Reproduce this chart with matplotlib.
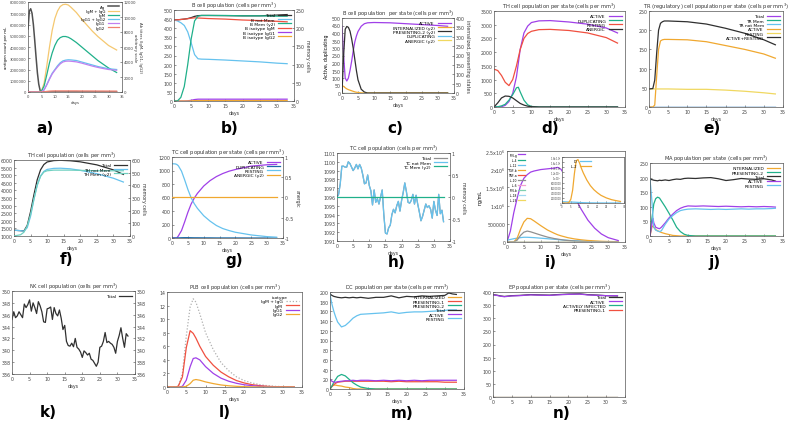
import matplotlib
matplotlib.use("Agg")
import matplotlib.pyplot as plt

W, H = 789, 435
fig = plt.figure(figsize=(W / 100, H / 100), dpi=100)
fig.patch.set_facecolor("white")

# gnuplot-like palette
VIO, TEAL, LBLUE, ORANGE, YELLOW = "#a040e8", "#20b08a", "#66c2ee", "#f0a830", "#f0d860"
DBLUE, RED, BLACK, GRAY = "#1a6aa8", "#f05040", "#303030", "#909090"
FS = 3.4

# ---------------- data ----------------
# a) antigen and antibodies
a_days_ag = [0, 0.5, 1, 1.5, 2, 2.5, 3, 3.5, 4, 4.5, 5, 33]
a_ag = [5.6e6, 7.2e6, 7.4e6, 7.0e6, 6.0e6, 4.6e6, 3.1e6, 1.7e6, 0.7e6, 0.15e6, 0, 0]
a_days = [0, 3, 5, 6, 7, 8, 9, 10, 11, 12, 13, 14, 15, 16, 18, 20, 22, 24, 26, 28, 30, 33]
a_igm_igg = [0, 0, 100, 1200, 3500, 6000, 8200, 9800, 10800, 11400, 11650, 11700, 11600, 11300, 10600, 9700, 8900, 8100, 7400, 6800, 6200, 5600]
a_igm = [0, 0, 100, 800, 2300, 3900, 5200, 6200, 6900, 7250, 7400, 7400, 7300, 7100, 6600, 6000, 5400, 4800, 4200, 3700, 3200, 2600]
a_igg12 = [0, 0, 0, 300, 1000, 1800, 2500, 3000, 3500, 3900, 4150, 4250, 4300, 4280, 4200, 4000, 3800, 3600, 3400, 3250, 3100, 3000]
a_igg1 = [0, 0, 0, 280, 950, 1700, 2400, 2900, 3350, 3750, 4000, 4100, 4120, 4100, 4020, 3850, 3650, 3450, 3280, 3130, 3000, 2900]
a_igg2 = [0, 0, 0, 30, 80, 120, 140, 150, 150, 150, 150, 150, 150, 150, 150, 140, 140, 135, 130, 130, 125, 120]

# b) B cell population
b_days = [0, 1, 2, 3, 4, 5, 6, 7, 8, 10, 15, 20, 25, 30, 33]
b_total = [445, 446, 448, 450, 453, 458, 465, 469, 470, 470, 469, 468, 468, 472, 475]
b_notmem = [445, 440, 430, 415, 380, 320, 255, 232, 230, 229, 225, 220, 215, 208, 205]
b_mem = [0, 0, 10, 40, 100, 170, 220, 233, 235, 235, 235, 234, 234, 233, 233]
b_igm = [445, 446, 448, 450, 452, 455, 457, 456, 455, 453, 450, 445, 442, 438, 435]
b_igg1 = [0, 0, 0, 0, 1, 4, 8, 10, 10, 10, 10, 10, 10, 10, 10]
b_igg2 = [0, 0, 0, 0, 0, 1, 2, 2, 2, 2, 2, 2, 2, 2, 2]

# c) B cell population per state
c_days = [0, 0.5, 1, 1.5, 2, 2.5, 3, 3.5, 4, 4.5, 5, 6, 7, 8, 10, 15, 20, 25, 30, 33]
c_active = [445, 250, 100, 80, 100, 150, 210, 280, 340, 380, 410, 445, 462, 468, 470, 468, 462, 456, 450, 445]
c_pres2 = [0, 200, 340, 355, 350, 330, 290, 240, 180, 120, 70, 20, 5, 0, 0, 0, 0, 0, 0, 0]
c_intern = [40, 35, 28, 22, 18, 15, 12, 9, 6, 4, 3, 1, 0, 0, 0, 0, 0, 0, 0, 0]

# d) TH cell population per state
d_days = [0, 1, 2, 3, 4, 5, 6, 6.5, 7, 8, 9, 10, 12, 15, 20, 25, 30, 33]
d_active = [0, 0, 10, 60, 200, 500, 1100, 1600, 2100, 2700, 2950, 3080, 3140, 3150, 3100, 3020, 2880, 2700]
d_dupl = [0, 10, 40, 100, 250, 450, 700, 720, 550, 250, 80, 20, 0, 0, 0, 0, 0, 0]
d_resting = [1380, 1330, 1150, 900, 780, 1000, 1500, 1800, 2100, 2500, 2680, 2760, 2820, 2830, 2790, 2700, 2530, 2330]
d_anergic = [0, 150, 330, 400, 390, 330, 230, 180, 130, 70, 30, 10, 0, 0, 0, 0, 0, 0]

# e) TR cell population per state
e_days = [0, 1, 1.5, 2, 2.5, 3, 3.5, 4, 5, 10, 15, 20, 25, 30, 33]
e_actres = [47, 48, 70, 140, 200, 218, 222, 224, 224, 222, 216, 205, 192, 175, 162]
e_active = [0, 0, 5, 80, 150, 172, 175, 176, 176, 175, 170, 160, 150, 138, 127]
e_resting = [47, 47, 47, 47, 47, 47, 47, 47, 47, 46, 46, 44, 41, 37, 34]

# f) TH cell population
f_days = [0, 2, 3, 4, 5, 6, 7, 8, 9, 10, 12, 14, 17, 20, 25, 30, 33]
f_total = [1380, 1350, 1330, 1700, 2600, 3700, 4700, 5350, 5700, 5870, 5960, 5980, 5950, 5880, 5680, 5350, 5050]
f_notmem = [1380, 1350, 1320, 1550, 2300, 3400, 4350, 4950, 5250, 5380, 5450, 5460, 5420, 5320, 5100, 4800, 4550]
f_mem = [0, 10, 30, 80, 170, 290, 400, 470, 505, 515, 520, 520, 520, 518, 515, 515, 515]

# g) TC cell population per state
g_days = [0, 1, 1.5, 2, 3, 4, 5, 6, 7, 8, 10, 12, 14, 16, 18, 20, 25, 30, 33]
g_resting = [1100, 1098, 1090, 1070, 990, 860, 720, 600, 510, 440, 330, 250, 185, 140, 110, 85, 45, 20, 12]
g_active = [0, 0, 0, 30, 110, 240, 380, 500, 590, 660, 770, 850, 910, 955, 990, 1015, 1065, 1085, 1090]
g_dupl = [0, 0, 0, 2, 4, 5, 5, 4, 3, 3, 2, 2, 1, 1, 1, 1, 0, 0, 0]
g_anergic = [0] * 19

# h) TC cell population (noisy)
h_days = [i * 0.5 for i in range(67)]
h_total = [1096, 1096.3, 1097.5, 1099.5, 1099.5, 1099.4, 1099.4, 1100, 1099.8, 1099.4, 1099.0, 1099.3, 1099.7, 1099.2, 1099.7,
           1099.3, 1098.5, 1097.5, 1097.6, 1098.5, 1097.3, 1096.7, 1095.1, 1096.8, 1095.4, 1095.8, 1095.2, 1096.0, 1096.8, 1094.0,
           1091.9, 1091.8, 1092.5, 1092.8, 1094.0, 1094.6, 1094.2, 1095.0, 1095.5, 1094.4, 1095.6, 1096.5, 1097.6, 1096.6, 1095.4,
           1095.3, 1095.6, 1096.3, 1095.2, 1096.2, 1095.2, 1094.3, 1093.3, 1093.8, 1094.5, 1095.2, 1094.8, 1095.0, 1094.6, 1093.6,
           1095.5, 1094.5, 1093.9, 1096.3, 1094.1, 1094.5, 1093.2]
h_mem = [0] * 67

# i) cytokines
i_days = [0, 1, 2, 3, 4, 5, 6, 7, 8, 10, 12, 14, 15, 16, 17, 18, 20, 22, 24, 26, 28, 30, 33]
i_ifng = [0, 3.0e5, 8.0e5, 1.2e6, 1.55e6, 1.75e6, 1.85e6, 1.92e6, 1.95e6, 1.99e6, 2.01e6, 2.03e6, 2.05e6, 2.0e6, 1.85e6, 1.65e6, 1.25e6, 0.9e6, 0.6e6, 0.38e6, 0.22e6, 0.12e6, 0.04e6]
i_tgfb = [0, 0, 0, 1.0e5, 3.5e5, 5.5e5, 6.5e5, 6.4e5, 5.8e5, 4.5e5, 3.3e5, 2.4e5, 2.0e5, 1.7e5, 1.45e5, 1.2e5, 0.85e5, 0.6e5, 0.42e5, 0.3e5, 0.2e5, 0.14e5, 0.08e5]
i_il10 = [0, 0, 0, 0.5e5, 1.8e5, 2.7e5, 3.0e5, 2.8e5, 2.5e5, 1.9e5, 1.35e5, 0.95e5, 0.8e5, 0.65e5, 0.52e5, 0.42e5, 0.27e5, 0.17e5, 0.1e5, 0.06e5, 0.03e5, 0.02e5, 0.01e5]
i_il12 = [5.0e4, 7.0e4, 9.0e4, 1.05e5, 1.2e5, 1.3e5, 1.3e5, 1.25e5, 1.2e5, 1.05e5, 0.9e5, 0.75e5, 0.68e5, 0.6e5, 0.52e5, 0.45e5, 0.35e5, 0.26e5, 0.19e5, 0.14e5, 0.1e5, 0.07e5, 0.04e5]
i_in_days = [0, 2, 3, 4, 5, 6, 7, 8, 9, 10, 11, 12, 14, 16, 18, 20, 22, 25, 28, 30, 33]
i_il2 = [0, 0, 0, 0.3e6, 1.5e6, 5.0e6, 11.5e6, 16.5e6, 17.0e6, 15.5e6, 13.5e6, 11.8e6, 9.0e6, 6.8e6, 5.2e6, 4.0e6, 3.0e6, 2.0e6, 1.3e6, 1.0e6, 0.6e6]
i_dsig = [0.5e6, 0.45e6, 0.42e6, 0.4e6, 0.38e6, 0.35e6, 0.32e6, 0.28e6, 0.24e6, 0.2e6, 0.16e6, 0.12e6, 0.08e6, 0.05e6, 0.03e6, 0.02e6, 0.01e6, 0, 0, 0, 0]

# j) MA population per state
j_days = [0, 0.5, 0.8, 1, 1.5, 2, 2.5, 3, 4, 5, 6, 7, 8, 9, 10, 12, 14, 16, 18, 20, 22, 24, 26, 28, 30, 32, 33]
j_total = [195, 193, 192, 191, 190, 189, 191, 190, 192, 190, 193, 195, 194, 197, 198, 197, 199, 200, 196, 190, 193, 197, 195, 194, 196, 192, 188]
j_resting = [195, 120, 60, 30, 20, 17, 15, 18, 40, 58, 70, 80, 87, 90, 92, 93, 92, 91, 92, 91, 92, 93, 92, 93, 93, 94, 95]
j_active = [0, 40, 60, 45, 30, 27, 25, 30, 45, 62, 75, 87, 95, 100, 103, 102, 103, 102, 101, 102, 101, 100, 101, 100, 101, 100, 99]
j_pres2 = [0, 60, 90, 110, 128, 133, 130, 120, 100, 78, 55, 30, 15, 6, 2, 0, 0, 0, 0, 0, 0, 0, 0, 0, 0, 0, 0]
j_intern = [0, 30, 35, 30, 22, 18, 15, 12, 8, 5, 2, 1, 0, 0, 0, 0, 0, 0, 0, 0, 0, 0, 0, 0, 0, 0, 0]

# k) NK cell population (noisy)
k_days = [i * 0.5 for i in range(67)]
k_total = [345.2, 346.5, 345.5, 345.8, 346.5, 346.0, 345.5, 347.8, 347.2, 347.7, 348.5, 346.6, 348.0, 347.2, 346.2, 348.2,
           347.5, 346.5, 344.8, 344.7, 347.0, 347.1, 347.3, 345.2, 347.2, 346.2, 345.8, 346.8, 345.4, 343.5, 344.2, 341.5,
           340.8, 340.7, 341.2, 340.6, 342.0, 340.5, 340.2, 339.7, 338.8, 339.9, 339.6, 339.2, 339.5, 338.5, 338.3, 337.8,
           337.3, 338.0, 340.5, 340.7, 341.5, 343.0, 341.3, 341.5, 341.2, 341.0, 340.5, 339.5, 341.5, 342.5, 343.8, 342.0,
           340.5, 342.8, 342.4]

# l) PLB cell population
l_days = [0, 2.5, 3, 4, 5, 6, 6.8, 7.5, 8.5, 10, 12, 14, 16, 18, 20, 22, 24, 26, 28, 30, 33]
l_all = [0, 0, 0.3, 2.0, 7.5, 11.8, 13.0, 12.5, 10.8, 8.0, 5.5, 3.6, 2.4, 1.5, 0.95, 0.6, 0.35, 0.2, 0.1, 0.05, 0]
l_igm = [0, 0, 0.2, 1.5, 5.8, 8.3, 7.9, 7.2, 6.0, 4.5, 3.2, 2.2, 1.5, 0.95, 0.6, 0.35, 0.2, 0.1, 0.05, 0.02, 0]
l_igg1 = [0, 0, 0, 0.1, 1.0, 3.0, 4.2, 4.3, 4.0, 3.0, 2.0, 1.3, 0.85, 0.55, 0.33, 0.2, 0.1, 0.05, 0.02, 0, 0]
l_igg2 = [0, 0, 0, 0, 0.1, 0.5, 1.0, 1.1, 1.0, 0.75, 0.5, 0.3, 0.18, 0.1, 0.05, 0.02, 0, 0, 0, 0, 0]

# m) DC population per state
m_days = [0, 0.5, 1, 1.5, 2, 3, 4, 5, 6, 7, 8, 10, 12, 14, 16, 18, 20, 22, 24, 26, 28, 30, 31, 32, 33]
m_total = [196, 193, 191, 190, 189, 188, 189, 188, 189, 188, 189, 187, 189, 189, 192, 188, 191, 190, 192, 191, 192, 193, 198, 196, 195]
m_resting = [195, 175, 160, 148, 138, 128, 131, 138, 146, 151, 154, 155, 156, 157, 159, 156, 158, 159, 159, 160, 161, 162, 163, 163, 163]
m_active = [20, 16, 14, 14, 15, 16, 17, 17, 18, 17, 18, 18, 17, 18, 17, 18, 17, 18, 17, 18, 18, 18, 18, 18, 18]
m_pres1 = [0, 5, 9, 12, 14, 15, 16, 16, 16, 16, 16, 16, 16, 16, 15, 16, 15, 15, 15, 15, 15, 14, 14, 14, 14]
m_pres2 = [0, 6, 14, 20, 26, 30, 27, 20, 13, 8, 4, 1, 0, 0, 0, 0, 0, 0, 0, 0, 0, 0, 0, 0, 0]
m_intern = [0, 6, 8, 8, 7, 6, 4, 3, 1, 0, 0, 0, 0, 0, 0, 0, 0, 0, 0, 0, 0, 0, 0, 0, 0]

# n) EP population per state
n_days = [0, 1, 2, 3, 5, 7, 10, 12, 15, 17, 20, 23, 25, 28, 30, 33]
n_total = [390, 388, 385, 383, 386, 387, 390, 389, 388, 390, 392, 393, 390, 388, 386, 385]
n_active = [389, 387, 384, 382, 385, 386, 389, 388, 387, 389, 391, 392, 389, 387, 386, 386]
n_zero = [0] * 16


# ---------------- helpers ----------------
def axes_px(l, t, r, b):
    return fig.add_axes([l / W, 1 - b / H, (r - l) / W, (b - t) / H])


def style(ax, ylim, yticks, xlab=True, ylabels=None, fs=FS):
    ax.set_xlim(0, 35)
    ax.set_xticks(range(0, 36, 5))
    ax.set_ylim(*ylim)
    ax.set_yticks(yticks)
    if ylabels is not None:
        ax.set_yticklabels(ylabels)
    ax.tick_params(labelsize=fs, length=1.5, width=0.4, pad=1.2, direction="in", colors="#444444")
    for s in ax.spines.values():
        s.set_linewidth(0.5)
        s.set_color("#555555")
    if xlab:
        ax.set_xlabel("days", fontsize=fs, labelpad=1.5, color="#333333")


def twin(ax, ylim, yticks, label=None, ylabels=None, fs=FS):
    t = ax.twinx()
    t.set_ylim(*ylim)
    t.set_yticks(yticks)
    if ylabels is not None:
        t.set_yticklabels(ylabels)
    t.tick_params(labelsize=fs, length=1.5, width=0.4, pad=1.2, direction="in", colors="#444444")
    if label:
        t.set_ylabel(label, fontsize=fs, rotation=270, labelpad=4, color="#333333")
    for s in t.spines.values():
        s.set_visible(False)
    return t


def title(ax, text):
    ax.set_title(text, fontsize=FS + 0.3, pad=2, color="#333333")


def legend(ax, handles, fs=FS - 0.2, **kw):
    ax.legend(handles=handles, loc="upper right", fontsize=fs, frameon=False, markerfirst=False,
              handlelength=3, handletextpad=0.6, labelspacing=0.05, borderaxespad=0.3, **kw)


def letter(x, y, s):
    fig.text(x / W, 1 - y / H, s, fontsize=11, fontweight="bold", ha="center", va="center")


LW = 0.9

# ---------------- a) ----------------
ax = axes_px(28, 3, 122, 93)
style(ax, (0, 8e6), [0, 1e6, 2e6, 3e6, 4e6, 5e6, 6e6, 7e6, 8e6], fs=2.7,
      ylabels=["0", "1000000", "2000000", "3000000", "4000000", "5000000", "6000000", "7000000", "8000000"])
ax.set_ylabel("antigen count per mL", fontsize=2.8, labelpad=1)
t = twin(ax, (0, 12000), range(0, 12001, 2000), "Ab titers (IgM, IgG1, IgG2)\narbitrary scale", fs=2.8)
h1, = ax.plot(a_days_ag, a_ag, color="#505050", lw=1.1, label="Ag")
h2, = t.plot(a_days, a_igm_igg, color="#f5c870", lw=LW, label="IgM + IgG")
h3, = t.plot(a_days, a_igm, color=TEAL, lw=LW, label="IgM")
h4, = t.plot(a_days, a_igg12, color=LBLUE, lw=LW, label="IgG1 + IgG2")
h5, = t.plot(a_days, a_igg1, color="#c080f0", lw=LW, label="IgG1")
h6, = t.plot(a_days, a_igg2, color="#f08070", lw=LW, label="IgG2")
legend(t, [h1, h2, h3, h4, h5, h6], fs=2.8)
letter(45, 129, "a)")

# ---------------- b) ----------------
ax = axes_px(174, 11, 294, 102)
style(ax, (0, 500), range(0, 501, 50))
t = twin(ax, (0, 250), range(0, 251, 50), "memory cells")
title(ax, "B cell population (cells per mm$^3$)")
h1, = ax.plot(b_days, b_total, color=BLACK, lw=LW, label="Total")
h2, = ax.plot(b_days, b_notmem, color=LBLUE, lw=LW, label="B not Mem")
h3, = t.plot(b_days, b_mem, color=TEAL, lw=LW, label="B Mem (y2)")
h4, = ax.plot(b_days, b_igm, color=RED, lw=LW, label="B isotype IgM")
h5, = ax.plot(b_days, b_igg1, color=VIO, lw=LW, label="B isotype IgG1")
h6, = ax.plot(b_days, b_igg2, color=ORANGE, lw=LW, label="B isotype IgG2")
legend(t, [h1, h2, h3, h4, h5, h6])
letter(230, 129, "b)")

# ---------------- c) ----------------
ax = axes_px(342, 19, 454, 94)
style(ax, (0, 500), range(0, 501, 50))
ax.set_ylabel("Active, duplicating", fontsize=FS, labelpad=1.5)
t = twin(ax, (0, 400), range(0, 401, 50), "internalized, presenting states")
title(ax, "B cell population  per state (cells per mm$^3$)")
h1, = ax.plot(c_days, c_active, color=VIO, lw=LW, label="ACTIVE")
h2, = t.plot(c_days, c_intern, color=ORANGE, lw=LW, label="INTERNALIZED (y2)")
h3, = t.plot(c_days, c_pres2, color=BLACK, lw=LW, label="PRESENTING-2 (y2)")
h4, = ax.plot(c_days, [0] * len(c_days), color=LBLUE, lw=LW, label="DUPLICATING")
h5, = t.plot(c_days, [0] * len(c_days), color=YELLOW, lw=LW, label="ANERGIC (y2)")
legend(t, [h1, h2, h3, h4, h5])
letter(395, 129, "c)")

# ---------------- d) ----------------
ax = axes_px(494, 12, 625, 108)
style(ax, (0, 3500), range(0, 3501, 500))
title(ax, "TH cell population per state (cells per mm$^3$)")
h1, = ax.plot(d_days, d_active, color=VIO, lw=LW, label="ACTIVE")
h2, = ax.plot(d_days, d_dupl, color=TEAL, lw=LW, label="DUPLICATING")
h3, = ax.plot(d_days, d_resting, color=RED, lw=LW, label="RESTING")
h4, = ax.plot(d_days, d_anergic, color=BLACK, lw=LW, label="ANERGIC")
legend(ax, [h1, h2, h3, h4])
letter(550, 129, "d)")

# ---------------- e) ----------------
ax = axes_px(649, 12, 783, 108)
style(ax, (0, 250), range(0, 251, 50))
title(ax, "TR (regulatory) cell population per state (cells per mm$^3$)")
z = [0] * len(e_days)
h1, = ax.plot(e_days, z, color=VIO, lw=LW, label="Total")
h2, = ax.plot(e_days, z, color=TEAL, lw=LW, label="TR Mem")
h3, = ax.plot(e_days, z, color=LBLUE, lw=LW, label="TR not Mem")
h4, = ax.plot(e_days, e_active, color=ORANGE, lw=LW, label="ACTIVE")
h5, = ax.plot(e_days, e_resting, color=YELLOW, lw=LW, label="RESTING")
h6, = ax.plot(e_days, e_actres, color=BLACK, lw=LW, label="ACTIVE+RESTING")
legend(ax, [h1, h2, h3, h4, h5, h6])
letter(712, 129, "e)")

# ---------------- f) ----------------
ax = axes_px(14, 161, 130, 237)
style(ax, (1000, 6000), range(1000, 6001, 500))
t = twin(ax, (0, 600), range(0, 601, 100), "memory cells")
title(ax, "TH cell population (cells per mm$^3$)")
h1, = ax.plot(f_days, f_total, color=BLACK, lw=LW, label="Total")
h2, = ax.plot(f_days, f_notmem, color=LBLUE, lw=LW, label="TH not Mem")
h3, = t.plot(f_days, f_mem, color="#70d0c0", lw=LW, label="TH Mem (y2)")
legend(t, [h1, h2, h3])
letter(66, 260, "f)")

# ---------------- g) ----------------
ax = axes_px(172, 158, 283, 239)
style(ax, (0, 1200), range(0, 1201, 200))
t = twin(ax, (-1, 1), [-1, -0.5, 0, 0.5, 1], "anergic", ylabels=["-1", "-0.5", "0", "0.5", "1"])
title(ax, "TC cell population per state (cells per mm$^3$)")
h1, = ax.plot(g_days, g_active, color=VIO, lw=LW, label="ACTIVE")
h2, = ax.plot(g_days, g_dupl, color=DBLUE, lw=LW, label="DUPLICATING")
h3, = ax.plot(g_days, g_resting, color=LBLUE, lw=LW, label="RESTING")
h4, = t.plot(g_days, g_anergic, color=ORANGE, lw=LW, label="ANERGIC (y2)")
legend(t, [h1, h2, h3, h4])
letter(234, 260, "g)")

# ---------------- h) ----------------
ax = axes_px(337, 154, 450, 242)
style(ax, (1091, 1101), range(1091, 1102))
t = twin(ax, (-1, 1), [-1, -0.5, 0, 0.5, 1], "memory cells", ylabels=["-1", "-0.5", "0", "0.5", "1"])
title(ax, "TC cell population (cells per mm$^3$)")
h1, = ax.plot(h_days, h_total, color="#909090", lw=LW, label="Total")
h2, = ax.plot(h_days, h_total, color=LBLUE, lw=LW, label="TC not Mem")
h3, = t.plot(h_days, h_mem, color=TEAL, lw=LW, label="TC Mem (y2)")
legend(t, [h1, h2, h3])
letter(397, 263, "h)")

# ---------------- i) ----------------
ax = axes_px(507, 152, 625, 243)
style(ax, (0, 2.5e6), [0, 5e5, 1e6, 1.5e6, 2e6, 2.5e6],
      ylabels=["0", "500000", "1x10$^6$", "1.5x10$^6$", "2x10$^6$", "2.5x10$^6$"])
ax.set_ylabel("ng/mL", fontsize=FS, labelpad=1.5)
z = [0] * len(i_days)
hs = []
hs += ax.plot(i_days, i_ifng, color=VIO, lw=LW, label="IFN-g")
hs += ax.plot(i_days, z, color=TEAL, lw=LW, label="IL-4")
hs += ax.plot(i_days, i_il12, color=LBLUE, lw=LW, label="IL-12")
hs += ax.plot(i_days, i_tgfb, color=ORANGE, lw=LW, label="TGF-b")
hs += ax.plot(i_days, z, color=RED, lw=LW, label="TNF-a")
hs += ax.plot(i_days, i_il10, color=GRAY, lw=LW, label="IL-10")
hs += ax.plot(i_days, z, color="#f0a0d0", lw=LW, label="IL-6")
hs += ax.plot(i_days, z, color="#7fd0b0", lw=LW, label="IFN-b")
hs += ax.plot(i_days, z, color="#a0d8f0", lw=LW, label="IL-18")
hs += ax.plot(i_days, z, color=YELLOW, lw=LW, label="IL-23")
ax.legend(handles=hs, loc="upper left", fontsize=2.2, frameon=False, markerfirst=False,
          handlelength=2.2, handletextpad=0.4, labelspacing=0.35, borderaxespad=0.3, borderpad=0.2)
ins = axes_px(562, 158, 624, 204)
style(ins, (0, 1.8e7), [0, 2e6, 4e6, 6e6, 8e6, 1e7, 1.2e7, 1.4e7, 1.6e7, 1.8e7], xlab=False, fs=1.8,
      ylabels=["0", "2000000", "4000000", "6000000", "8000000", "1x10$^7$", "1.2x10$^7$", "1.4x10$^7$",
               "1.6x10$^7$", "1.8x10$^7$"])
ins.tick_params(pad=0.6)
g1, = ins.plot(i_in_days, i_dsig, color=LBLUE, lw=LW, label="D")
g2, = ins.plot(i_in_days, i_il2, color=ORANGE, lw=LW, label="IL-2")
ins.legend(handles=[g1, g2], loc="upper left", bbox_to_anchor=(0.1, 1.0), fontsize=2.6, frameon=False,
           markerfirst=False, handlelength=3, labelspacing=0.3, borderaxespad=0.2)
letter(551, 263, "i)")

# ---------------- j) ----------------
ax = axes_px(650, 164, 783, 237)
style(ax, (0, 250), range(0, 251, 50))
title(ax, "MA population per state (cells per mm$^3$)")
h1, = ax.plot(j_days, j_intern, color=ORANGE, lw=LW, label="INTERNALIZED")
h2, = ax.plot(j_days, j_pres2, color=TEAL, lw=LW, label="PRESENTING-2")
h3, = ax.plot(j_days, j_total, color=BLACK, lw=LW, label="Total")
h4, = ax.plot(j_days, j_active, color=VIO, lw=LW, label="ACTIVE")
h5, = ax.plot(j_days, j_resting, color=LBLUE, lw=LW, label="RESTING")
legend(ax, [h1, h2, h3, h4, h5])
letter(714, 263, "j)")

# ---------------- k) ----------------
ax = axes_px(12, 292, 135, 375)
style(ax, (336, 350), range(336, 351, 2))
t = twin(ax, (336, 350), range(336, 351, 2))
title(ax, "NK cell population (cells per mm$^3$)")
h1, = ax.plot(k_days, k_total, color=BLACK, lw=LW, label="Total")
legend(ax, [h1])
letter(48, 413, "k)")

# ---------------- l) ----------------
ax = axes_px(167, 293, 302, 388)
style(ax, (0, 14), range(0, 15, 2))
title(ax, "PLB cell population (cells per mm$^3$)")
h1, = ax.plot(l_days, l_all, color="#b0b0b0", lw=LW, ls=(0, (1, 1.5)), label="IgM + IgG")
h2, = ax.plot(l_days, l_igm, color=RED, lw=LW, label="IgM")
h3, = ax.plot(l_days, l_igg1, color=VIO, lw=LW, label="IgG1")
h4, = ax.plot(l_days, l_igg2, color=ORANGE, lw=LW, label="IgG2")
legend(ax, [h1, h2, h3, h4], title="isotype", title_fontsize=FS - 0.2)
letter(225, 413, "l)")

# ---------------- m) ----------------
ax = axes_px(330, 293, 464, 390)
style(ax, (0, 200), range(0, 201, 20))
title(ax, "DC population per state (cells per mm$^3$)")
h1, = ax.plot(m_days, m_intern, color=ORANGE, lw=LW, label="INTERNALIZED")
h2, = ax.plot(m_days, m_pres1, color=RED, lw=LW, label="PRESENTING-1")
h3, = ax.plot(m_days, m_pres2, color=TEAL, lw=LW, label="PRESENTING-2")
h4, = ax.plot(m_days, m_total, color=BLACK, lw=LW, label="Total")
h5, = ax.plot(m_days, m_active, color=VIO, lw=LW, label="ACTIVE")
h6, = ax.plot(m_days, m_resting, color=LBLUE, lw=LW, label="RESTING")
legend(ax, [h1, h2, h3, h4, h5, h6])
letter(402, 414, "m)")

# ---------------- n) ----------------
ax = axes_px(493, 293, 625, 398)
style(ax, (0, 400), range(0, 401, 50), xlab=False)
title(ax, "EP population per state (cells per mm$^3$)")
h1, = ax.plot(n_days, n_total, color=BLACK, lw=LW, label="Total")
h2, = ax.plot(n_days, n_active, color=VIO, lw=LW, label="ACTIVE")
h3, = ax.plot(n_days, n_zero, color=TEAL, lw=LW, label="ACTIVELY INFECTED")
h4, = ax.plot(n_days, n_zero, color=RED, lw=LW, label="PRESENTING-1")
legend(ax, [h1, h2, h3, h4])
letter(562, 414, "n)")

fig.savefig("out.png", dpi=100, facecolor="white")
